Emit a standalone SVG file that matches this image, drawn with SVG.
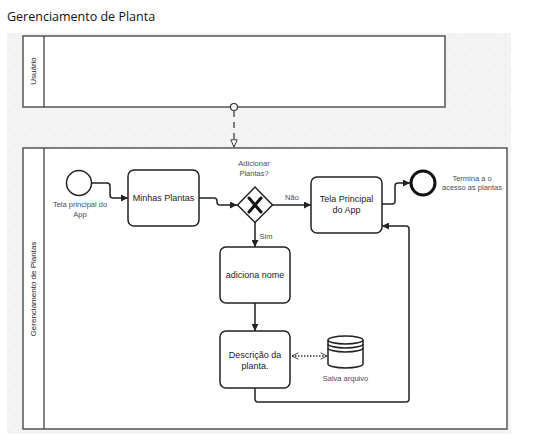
<svg xmlns="http://www.w3.org/2000/svg" width="556" height="439" viewBox="0 0 556 439">
<defs>
<pattern id="dots" width="10" height="10" patternUnits="userSpaceOnUse">
<rect width="10" height="10" fill="#f3f3f3"/>
<circle cx="5" cy="5" r="0.6" fill="#d6d6d6"/>
</pattern>
<marker id="arr" viewBox="0 0 10 10" refX="10" refY="5" markerWidth="7" markerHeight="7" orient="auto" markerUnits="userSpaceOnUse">
<path d="M0,0 L10,5 L0,10 z" fill="#222"/>
</marker>
<marker id="openarr" viewBox="0 0 10 10" refX="10" refY="5" markerWidth="8" markerHeight="8" orient="auto" markerUnits="userSpaceOnUse">
<path d="M1,1 L10,5 L1,9 z" fill="#fff" stroke="#333" stroke-width="1.2"/>
</marker>
<marker id="assoc" viewBox="0 0 10 10" refX="9" refY="5" markerWidth="8" markerHeight="8" orient="auto-start-reverse" markerUnits="userSpaceOnUse">
<path d="M1,1 L9,5 L1,9" fill="none" stroke="#333" stroke-width="1.2"/>
</marker>
</defs>
<style>
.t{font-family:"Liberation Sans",Arial,sans-serif;font-size:9px;fill:#222;text-anchor:middle}
.lb{font-family:"Liberation Sans",Arial,sans-serif;font-size:7.5px;fill:#474d5c;text-anchor:middle}
.pool{fill:#fff;stroke:#555;stroke-width:1.5}
.task{fill:#fff;stroke:#222;stroke-width:1.5}
.flow{fill:none;stroke:#222;stroke-width:1.5;stroke-linejoin:round}
</style>
<rect width="556" height="439" fill="#fff"/>
<text x="7" y="21" font-family="'Open Sans','Noto Sans',sans-serif" font-size="12.5" fill="#111">Gerenciamento de Planta</text>
<rect x="7" y="33" width="504" height="401" fill="url(#dots)"/>

<g id="pool-usuario">
<rect class="pool" x="23" y="36" width="422" height="71"/>
<line x1="44" y1="36" x2="44" y2="107" stroke="#333" stroke-width="1.2"/>
<text class="lb" transform="translate(36,71) rotate(-90)" style="fill:#222;font-size:8px">Usuário</text>
</g>

<g id="pool-gerenciamento">
<rect class="pool" x="23" y="148" width="484" height="281"/>
<line x1="44" y1="148" x2="44" y2="429" stroke="#333" stroke-width="1.2"/>
<text class="lb" transform="translate(36,289) rotate(-90)" style="fill:#222;font-size:8px">Gerenciamento de Plantas</text>
</g>

<g id="connectors">
<g id="msg-flow">
<line x1="234" y1="111" x2="234" y2="147" stroke="#333" stroke-width="1.2" stroke-dasharray="6,5" marker-end="url(#openarr)"/>
<circle cx="234" cy="107" r="3.5" fill="#fff" stroke="#333" stroke-width="1.2"/>
</g>
<path class="flow" d="M92,183 H107 Q110,183 110,186 V195 Q110,198 113,198 H128" marker-end="url(#arr)"/>
<path class="flow" d="M199,198 H214 Q217,198 217,201 V202 Q217,205 220,205 H237" marker-end="url(#arr)"/>
<path class="flow" d="M272,205 H311" marker-end="url(#arr)"/>
<text class="lb" x="292" y="200">Não</text>
<path class="flow" d="M255,222 V247" marker-end="url(#arr)"/>
<text class="lb" x="266" y="239">Sim</text>
<path class="flow" d="M382,204 H392 Q395,204 395,201 V186 Q395,183 398,183 H410" marker-end="url(#arr)"/>
<path class="flow" d="M255,303 V331" marker-end="url(#arr)"/>
<path class="flow" d="M255,388 V399 Q255,402 258,402 H406 Q409,402 409,399 V229 Q409,226 406,226 H382" marker-end="url(#arr)"/>
<line x1="292" y1="356" x2="327" y2="356" stroke="#333" stroke-width="1.3" stroke-dasharray="1.5,1.5" marker-start="url(#assoc)" marker-end="url(#assoc)"/>
</g>

<g id="start">
<circle cx="79" cy="183" r="12.5" fill="#fff" stroke="#222" stroke-width="1.5"/>
<text class="lb" x="80" y="207">Tela principal do</text>
<text class="lb" x="80" y="217">App</text>
</g>

<g id="minhas-plantas">
<rect class="task" x="128" y="170" width="71" height="56" rx="6"/>
<text class="t" x="163.5" y="201">Minhas Plantas</text>
</g>

<g id="gateway">
<path d="M255,187 L272.5,205 L255,222.5 L237.5,205 z" fill="#fff" stroke="#222" stroke-width="1.5"/>
<path d="M249,198 L261,212 M261,198 L249,212" stroke="#111" stroke-width="3" stroke-linecap="round"/>
<text class="lb" x="254" y="166">Adicionar</text>
<text class="lb" x="254" y="176">Plantas?</text>
</g>

<g id="tela-principal">
<rect class="task" x="311" y="177" width="71" height="56" rx="6"/>
<text class="t" x="346.5" y="202">Tela Principal</text>
<text class="t" x="346.5" y="213">do App</text>
</g>

<g id="end">
<circle cx="423" cy="183" r="12" fill="#fff" stroke="#111" stroke-width="3"/>
<text class="lb" x="472" y="181">Termina a o</text>
<text class="lb" x="472" y="190">acesso as plantas</text>
</g>

<g id="adiciona-nome">
<rect class="task" x="220" y="247" width="70" height="56" rx="6"/>
<text class="t" x="255" y="278">adiciona nome</text>
</g>

<g id="descricao">
<rect class="task" x="220" y="331" width="70" height="57" rx="6"/>
<text class="t" x="255" y="358">Descrição da</text>
<text class="t" x="255" y="369">planta.</text>
</g>

<g id="datastore">
<path d="M328,340 V364 A17.5,4 0 0 0 363,364 V340" fill="#fff" stroke="#222" stroke-width="1.5"/>
<ellipse cx="345.5" cy="340" rx="17.5" ry="4" fill="#fff" stroke="#222" stroke-width="1.5"/>
<path d="M328,344 A17.5,4 0 0 0 363,344 M328,348 A17.5,4 0 0 0 363,348" fill="none" stroke="#222" stroke-width="1.5"/>
<text class="lb" x="345.5" y="381">Salva arquivo</text>
</g>
</svg>
